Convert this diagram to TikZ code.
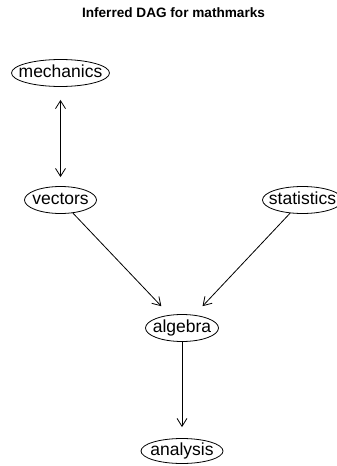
\documentclass[tikz,border=0pt]{standalone}
\usepackage{fontspec}
\setmainfont{Liberation Sans}
\usetikzlibrary{arrows.meta,positioning,shapes.geometric}
\definecolor{ink}{HTML}{000000}
\tikzset{
  every node/.style={font=\rmfamily},
  vtx/.style ={ellipse, draw=ink, line width=0.8pt, inner xsep=-12pt, inner ysep=-3pt,
               minimum height=27pt, text height=11pt, text depth=3pt,
               font=\fontsize{17.5}{18}\selectfont},
  ttl/.style ={font=\fontsize{13.6}{15}\selectfont\bfseries, anchor=base},
  ar/.style  ={-{Straight Barb[length=8pt, width=10pt]}, line width=0.8pt, draw=ink},
  biar/.style={{Straight Barb[length=8pt, width=10pt]}-{Straight Barb[length=8pt, width=10pt]},
               line width=0.8pt, draw=ink},
}

\begin{document}
\begin{tikzpicture}[x=1pt, y=-1pt]
\useasboundingbox (0,0) rectangle (337,466);

% ---------------- title -------------------------------------------------------
\node[ttl] (title) at (173.5,17) {Inferred DAG for mathmarks};

% ---------------- vertices ----------------------------------------------------
\node[vtx, minimum width=98pt] (mech) at (60.5,73)  {mechanics};
\node[vtx, minimum width=72pt] (vec)  at (60.5,200) {vectors};
\node[vtx, minimum width=80pt] (stat) at (302.5,200) {statistics};
\node[vtx, minimum width=73pt] (alg)  at (182,328)  {algebra};
\node[vtx, minimum width=82pt, minimum height=25pt] (ana) at (182,451) {analysis};

% ---------------- edges -------------------------------------------------------
\draw[biar, shorten <=13pt, shorten >=9pt] (mech) -- (vec);
\draw[ar, shorten >=12pt] (vec) -- (alg);
\draw[ar, shorten >=12pt] (stat) -- (alg);
\draw[ar, shorten >=11pt] (alg) -- (ana);

\end{tikzpicture}
\end{document}
